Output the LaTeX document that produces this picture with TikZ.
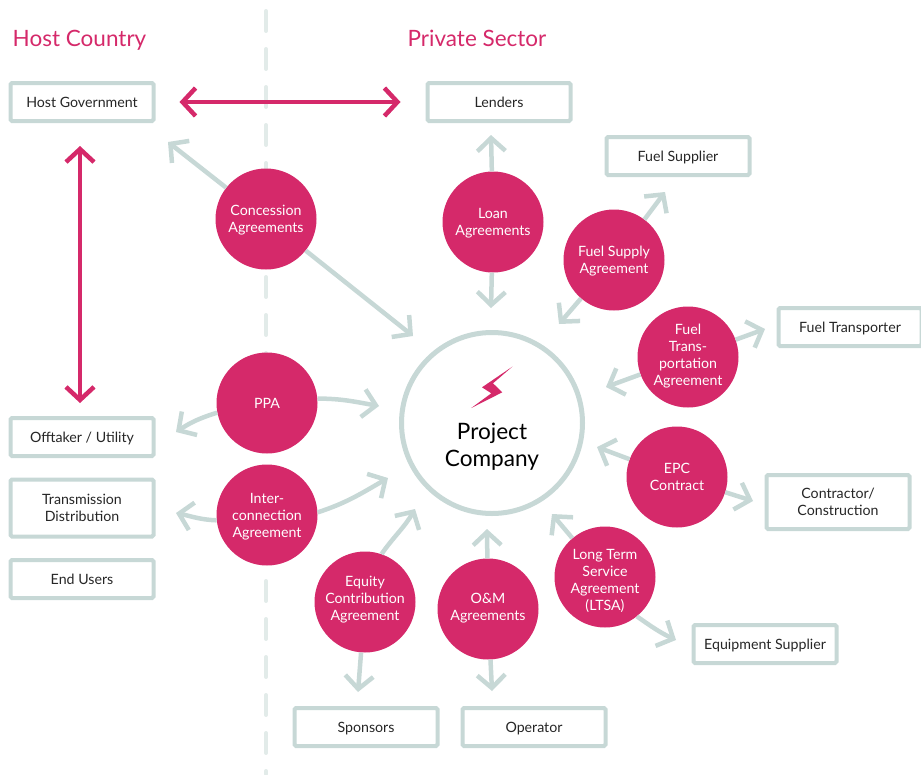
\documentclass[tikz,border=0pt]{standalone}
\usepackage{fontspec}
\setmainfont{Lato}
\usetikzlibrary{arrows.meta}
\definecolor{agreementpink}{HTML}{D5296A}
\definecolor{linegray}{HTML}{C7D8D6}
\definecolor{dividergray}{HTML}{E2EBE9}
\tikzstyle{partybox} = [draw=linegray, fill=white, line width=4pt, rectangle, rounded corners=1.5pt, minimum width=143pt, minimum height=38pt, inner sep=0pt, align=center, text=black!85, text depth=0pt, font=\fontsize{14.2}{17}\selectfont]
\tikzstyle{agreement} = [fill=agreementpink, circle, minimum size=101pt, inner sep=0pt, align=center, text=white, text depth=0pt, font=\fontsize{14.2}{17}\selectfont]
\tikzstyle{grayarrow} = [draw=linegray, line width=4.5pt, -{Straight Barb[length=13pt,width=28pt]}]
\tikzstyle{pinkarrow} = [draw=agreementpink, line width=4.5pt, {Straight Barb[length=13pt,width=28pt]}-{Straight Barb[length=13pt,width=28pt]}]
\tikzstyle{sidetitle} = [text=agreementpink, font=\fontsize{22.5}{27}\selectfont, inner sep=0pt, anchor=base]

\begin{document}
\begin{tikzpicture}[x=1pt,y=-1pt]
\useasboundingbox (0,0) rectangle (921,774);
\coordinate (dividertop) at (266,11);
\coordinate (dividerbottom) at (266,774);
\draw [draw=dividergray, line width=4pt, line cap=round, dash pattern=on 20pt off 18pt] (dividertop) -- (dividerbottom);

\node [sidetitle] (hostcountry) at (79.5,46) {Host Country};
\node [sidetitle] (privatesector) at (477,46) {Private Sector};

\node [partybox] (hostgov) at (82,102) {Host Government};
\node [partybox] (lenders) at (499,102) {Lenders};
\node [partybox] (fuelsupplier) at (678,156) {Fuel Supplier};
\node [partybox] (fueltransporter) at (850,327) {Fuel Transporter};
\node [partybox, minimum height=54pt] (contractor) at (838,502) {Contractor/\\Construction};
\node [partybox] (equipment) at (765,644) {Equipment Supplier};
\node [partybox] (operator) at (534,727) {Operator};
\node [partybox] (sponsors) at (366,727) {Sponsors};
\node [partybox] (offtaker) at (82,437) {Offtaker / Utility};
\node [partybox, minimum height=57pt] (transmission) at (82,508) {Transmission\\Distribution};
\node [partybox] (endusers) at (82,579) {End Users};

\node [draw=linegray, fill=white, line width=5pt, circle, minimum size=181pt, inner sep=0pt] (project) at (492,423) {};
\node [inner sep=0pt, align=center, text=black, font=\fontsize{22.6}{27}\selectfont] (projectlabel) at (492,447) {Project\\Company};
\fill [agreementpink] (512.3,366.7) -- (482,387.3) -- (491.3,393.3) -- (471.3,408) -- (502.3,392.3) -- (493,383.3) -- cycle;

\node [agreement] (concession) at (266,219) {Concession\\Agreements};
\node [agreement] (loan) at (493,222) {Loan\\Agreements};
\node [agreement] (fuelsupply) at (614,260) {Fuel Supply\\Agreement};
\node [agreement, text depth=4pt] (fueltransport) at (688,357) {Fuel\\Trans-\\portation\\Agreement};
\node [agreement] (epc) at (677,477) {EPC\\Contract};
\node [agreement] (ltsa) at (605,577) {\rule{0pt}{16pt}Long Term\\Service\\Agreement\\(LTSA)};
\node [agreement, text depth=4pt] (om) at (488,609) {O\&M\\Agreements};
\node [agreement, text depth=8pt] (equity) at (365,602) {Equity\\Contribution\\Agreement};
\node [agreement] (interconnection) at (267,515) {Inter-\\connection\\Agreement};
\node [agreement] (ppa) at (267,403) {PPA};

\coordinate (concessionhost) at (168,142);
\coordinate (concessionproject) at (413,336);
\coordinate (loanlenders) at (491,135);
\coordinate (loanproject) at (491,308);
\coordinate (fuelsupplyout) at (665,192);
\coordinate (fuelsupplyproject) at (559,324);
\coordinate (fueltransportout) at (765,329);
\coordinate (fueltransportproject) at (606,387);
\coordinate (epcproject) at (597,447);
\coordinate (epcout) at (753,501);
\coordinate (ltsaproject) at (552,514);
\coordinate (ltsaout) at (676,640);
\coordinate (omproject) at (487,529);
\coordinate (omout) at (492,691);
\coordinate (equityproject) at (415,509);
\coordinate (equityout) at (358,692);
\coordinate (interproject) at (388,478);
\coordinate (interout) at (176,513);
\coordinate (ppaproject) at (379,406);
\coordinate (ppaout) at (176,432);

\draw [grayarrow] (concession) -- (concessionhost);
\draw [grayarrow] (concession) -- (concessionproject);
\draw [grayarrow] (loan) -- (loanlenders);
\draw [grayarrow] (loan) -- (loanproject);
\draw [grayarrow] (fuelsupply) -- (fuelsupplyout);
\draw [grayarrow] (fuelsupply) -- (fuelsupplyproject);
\draw [grayarrow] (fueltransport) -- (fueltransportout);
\draw [grayarrow] (fueltransport) -- (fueltransportproject);
\draw [grayarrow] (epc) -- (epcproject);
\draw [grayarrow] (epc) -- (epcout);
\draw [grayarrow] (ltsa) -- (ltsaproject);
\draw [grayarrow] (ltsa.-51) to [out=-35, in=155] (ltsaout);
\draw [grayarrow] (om) -- (omproject);
\draw [grayarrow] (om) -- (omout);
\draw [grayarrow] (equity.71) to [out=55, in=240] (equityproject);
\draw [grayarrow] (equity) -- (equityout);
\draw [grayarrow] (interconnection.3) to [out=18, in=210] (interproject);
\draw [grayarrow] (interconnection.186) to [out=178, in=-12] (interout);
\draw [grayarrow] (ppa.5) to [out=0, in=170] (ppaproject);
\draw [grayarrow] (ppa.191) to [out=197, in=33] (ppaout);

\draw [pinkarrow, shorten <=24pt, shorten >=25pt] (hostgov) -- (lenders);
\draw [pinkarrow, shorten <=23pt, shorten >=13pt] ([xshift=-2pt]hostgov.south) -- ([xshift=-2pt]offtaker.north);
\end{tikzpicture}
\end{document}
